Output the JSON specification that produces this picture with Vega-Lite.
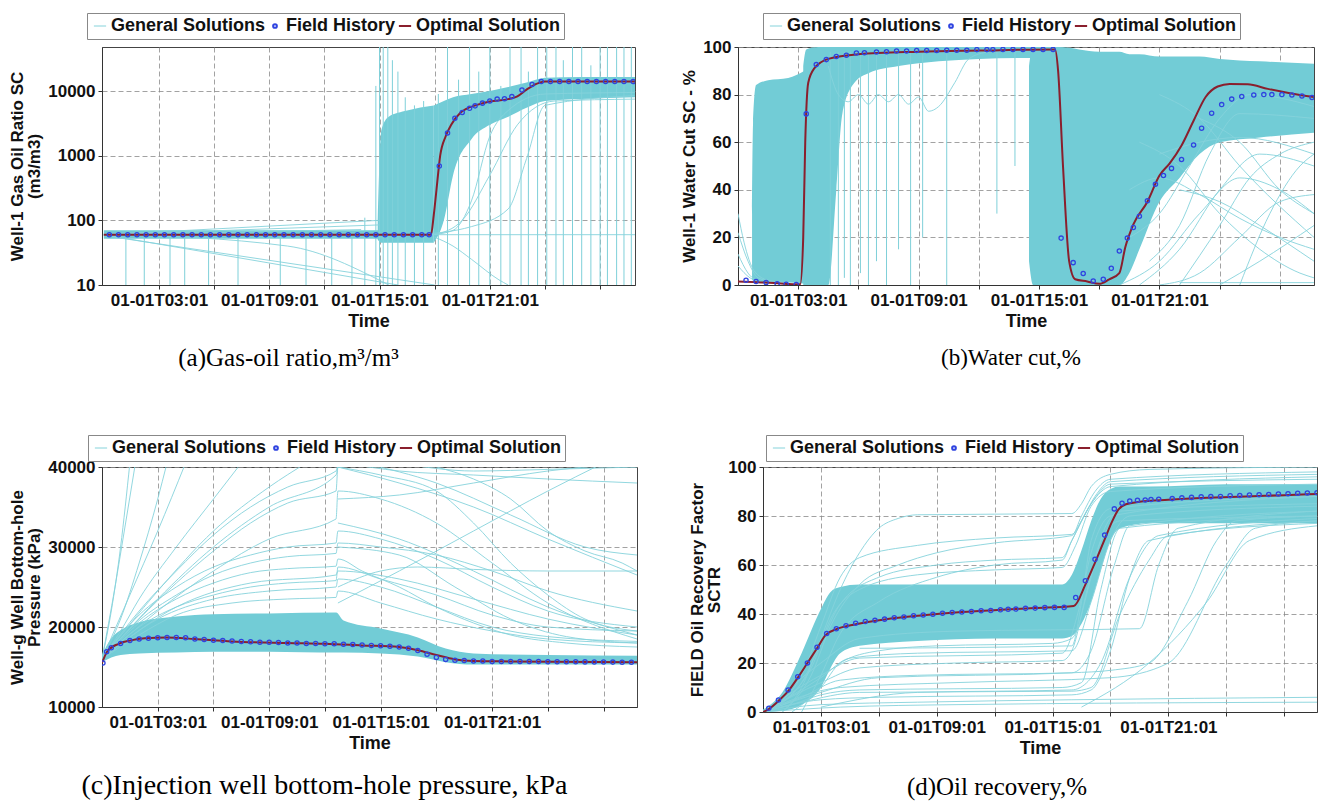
{
"$schema": "https://vega.github.io/schema/vega-lite/v6.json",
"background": "white",
"padding": {"top": 12, "left": 8, "right": 0, "bottom": 0},
"config": {
 "font": "Liberation Sans",
 "view": {"stroke": "#444", "strokeWidth": 1},
 "axis": {"labelFont": "Liberation Sans", "labelFontSize": 17, "labelFontWeight": "bold", "labelColor": "#111", "titleFont": "Liberation Sans", "titleFontSize": 18, "titleFontWeight": "bold", "titleColor": "#111", "grid": true, "gridColor": "#8a8a8a", "gridDash": [5, 3], "gridWidth": 0.8, "domainColor": "#333", "tickColor": "#333", "tickSize": 4, "labelPadding": 3},
 "axisY": {"titleFontSize": 17, "titleLineHeight": 17},
 "legend": {"orient": "none", "direction": "horizontal", "strokeColor": "#888", "fillColor": "white", "padding": 4, "labelFont": "Liberation Sans", "labelFontSize": 18, "labelFontWeight": "bold", "labelColor": "#111", "labelOffset": 2, "columnPadding": -14, "symbolStrokeWidth": 2, "symbolSize": 110, "symbolType": "stroke"},
 "title": {"font": "Liberation Serif", "fontSize": 25, "fontWeight": "normal", "color": "#000", "orient": "bottom", "offset": 16}
},
"datasets": {
 "a_band": [
  {"b": "lo", "h": 0, "v": 52, "v2": 70}, {"b": "lo", "h": 17.9, "v": 52, "v2": 70},
  {"b": "mid", "h": 14.9, "v": 50, "v2": 100}, {"b": "mid", "h": 15.1, "v": 45, "v2": 2500}, {"b": "mid", "h": 15.5, "v": 45, "v2": 4000}, {"b": "mid", "h": 16.5, "v": 45, "v2": 5000}, {"b": "mid", "h": 17.95, "v": 45, "v2": 6000},
  {"b": "hi", "h": 17.95, "v": 45, "v2": 6000}, {"b": "hi", "h": 18.5, "v": 100, "v2": 7000}, {"b": "hi", "h": 19, "v": 500, "v2": 8000}, {"b": "hi", "h": 20, "v": 1800, "v2": 9000}, {"b": "hi", "h": 21, "v": 3000, "v2": 10000}, {"b": "hi", "h": 22, "v": 4000, "v2": 11500}, {"b": "hi", "h": 23, "v": 5500, "v2": 13500}, {"b": "hi", "h": 24, "v": 7000, "v2": 16000}, {"b": "hi", "h": 26, "v": 7500, "v2": 16500}, {"b": "hi", "h": 28.9, "v": 8000, "v2": 16500}
 ],
 "a_spk": [
  {"h": 1.2, "v": 10, "v2": 55}, {"h": 2.2, "v": 10, "v2": 55}, {"h": 3.6, "v": 10, "v2": 55}, {"h": 4.4, "v": 10, "v2": 55}, {"h": 5.7, "v": 10, "v2": 55}, {"h": 7.3, "v": 10, "v2": 55}, {"h": 9.6, "v": 10, "v2": 55}, {"h": 11.0, "v": 10, "v2": 55}, {"h": 12.4, "v": 10, "v2": 55}, {"h": 13.5, "v": 10, "v2": 55}, {"h": 14.2, "v": 10, "v2": 110},
  {"h": 14.8, "v": 10, "v2": 12000}, {"h": 15.0, "v": 10, "v2": 48000}, {"h": 15.2, "v": 10, "v2": 48000}, {"h": 15.45, "v": 10, "v2": 48000}, {"h": 15.7, "v": 10, "v2": 30000}, {"h": 16.0, "v": 10, "v2": 20000}, {"h": 16.4, "v": 10, "v2": 8000}, {"h": 16.9, "v": 10, "v2": 6000}, {"h": 17.4, "v": 10, "v2": 7000}, {"h": 18.2, "v": 10, "v2": 9000}, {"h": 18.7, "v": 10, "v2": 48000}, {"h": 19.3, "v": 10, "v2": 15000}, {"h": 19.9, "v": 10, "v2": 48000}, {"h": 20.4, "v": 10, "v2": 20000}, {"h": 21.0, "v": 10, "v2": 48000}, {"h": 21.6, "v": 10, "v2": 12000}, {"h": 22.1, "v": 10, "v2": 48000}, {"h": 22.7, "v": 10, "v2": 48000}, {"h": 23.1, "v": 10, "v2": 20000}, {"h": 23.6, "v": 10, "v2": 48000}, {"h": 24.1, "v": 10, "v2": 48000}, {"h": 24.6, "v": 10, "v2": 48000}, {"h": 25.0, "v": 10, "v2": 30000}, {"h": 25.5, "v": 10, "v2": 48000}, {"h": 26.0, "v": 10, "v2": 48000}, {"h": 26.5, "v": 10, "v2": 25000}, {"h": 27.0, "v": 10, "v2": 48000}, {"h": 27.4, "v": 10, "v2": 48000}, {"h": 27.9, "v": 10, "v2": 48000}, {"h": 28.3, "v": 10, "v2": 48000}, {"h": 28.7, "v": 10, "v2": 48000}
 ],
 "a_gen": [
  {"id": "g1", "h": 0, "v": 60}, {"id": "g1", "h": 16, "v": 10},
  {"id": "g2", "h": 0, "v": 58}, {"id": "g2", "h": 18, "v": 10},
  {"id": "g3", "h": 0, "v": 62}, {"id": "g3", "h": 10, "v": 40}, {"id": "g3", "h": 15.5, "v": 10},
  {"id": "g4", "h": 0, "v": 60}, {"id": "g4", "h": 15, "v": 100},
  {"id": "g5", "h": 0, "v": 60}, {"id": "g5", "h": 15, "v": 85},
  {"id": "g6", "h": 0, "v": 60}, {"id": "g6", "h": 14, "v": 72},
  {"id": "g7", "h": 0, "v": 60}, {"id": "g7", "h": 28.9, "v": 60},
  {"id": "g8", "h": 17.9, "v": 60}, {"id": "g8", "h": 19, "v": 70}, {"id": "g8", "h": 20, "v": 200}, {"id": "g8", "h": 21, "v": 2000}, {"id": "g8", "h": 22, "v": 5000}, {"id": "g8", "h": 24, "v": 9000}, {"id": "g8", "h": 28.9, "v": 9500},
  {"id": "g9", "h": 17, "v": 60}, {"id": "g9", "h": 20, "v": 80}, {"id": "g9", "h": 22, "v": 150}, {"id": "g9", "h": 23, "v": 900}, {"id": "g9", "h": 24, "v": 6000}, {"id": "g9", "h": 28.9, "v": 8500},
  {"id": "g10", "h": 18, "v": 60}, {"id": "g10", "h": 19.5, "v": 100}, {"id": "g10", "h": 21, "v": 500}, {"id": "g10", "h": 22.5, "v": 3000}, {"id": "g10", "h": 24.5, "v": 7000}, {"id": "g10", "h": 28.9, "v": 7500},
  {"id": "g11", "h": 18, "v": 55}, {"id": "g11", "h": 19, "v": 40}, {"id": "g11", "h": 20, "v": 25}, {"id": "g11", "h": 21.5, "v": 12}, {"id": "g11", "h": 22, "v": 10}
 ],
 "a_opt": [
  {"h": 0, "v": 60}, {"h": 4, "v": 60}, {"h": 8, "v": 60}, {"h": 12, "v": 60}, {"h": 16, "v": 60}, {"h": 17.8, "v": 60}, {"h": 17.95, "v": 120}, {"h": 18.1, "v": 300}, {"h": 18.3, "v": 1000}, {"h": 18.6, "v": 2000}, {"h": 18.9, "v": 3000}, {"h": 19.4, "v": 4600}, {"h": 20.3, "v": 6100}, {"h": 21, "v": 6900}, {"h": 22, "v": 7500}, {"h": 22.5, "v": 8300}, {"h": 23, "v": 10500}, {"h": 23.5, "v": 12800}, {"h": 24, "v": 14000}, {"h": 28.9, "v": 14000}
 ],
 "a_hist": [
  {"h": 0.3, "v": 60}, {"h": 0.8, "v": 60}, {"h": 1.3, "v": 60}, {"h": 1.8, "v": 60}, {"h": 2.3, "v": 60}, {"h": 2.8, "v": 60}, {"h": 3.3, "v": 60}, {"h": 3.8, "v": 60}, {"h": 4.3, "v": 60}, {"h": 4.8, "v": 60}, {"h": 5.3, "v": 60}, {"h": 5.8, "v": 60}, {"h": 6.3, "v": 60}, {"h": 6.8, "v": 60}, {"h": 7.3, "v": 60}, {"h": 7.8, "v": 60}, {"h": 8.3, "v": 60}, {"h": 8.8, "v": 60}, {"h": 9.3, "v": 60}, {"h": 9.8, "v": 60}, {"h": 10.3, "v": 60}, {"h": 10.8, "v": 60}, {"h": 11.3, "v": 60}, {"h": 11.8, "v": 60}, {"h": 12.3, "v": 60}, {"h": 12.8, "v": 60}, {"h": 13.3, "v": 60}, {"h": 13.8, "v": 60}, {"h": 14.3, "v": 60}, {"h": 14.8, "v": 60}, {"h": 15.3, "v": 60}, {"h": 15.8, "v": 60}, {"h": 16.3, "v": 60}, {"h": 16.8, "v": 60}, {"h": 17.3, "v": 60}, {"h": 17.7, "v": 60},
  {"h": 18.25, "v": 690}, {"h": 18.7, "v": 2240}, {"h": 19.1, "v": 3800}, {"h": 19.5, "v": 4650}, {"h": 19.9, "v": 5400}, {"h": 20.2, "v": 5900}, {"h": 20.6, "v": 6500}, {"h": 21.0, "v": 7000}, {"h": 21.4, "v": 7500}, {"h": 21.8, "v": 7600}, {"h": 22.2, "v": 8200}, {"h": 22.75, "v": 10400}, {"h": 23.3, "v": 12600}, {"h": 23.8, "v": 14000}, {"h": 24.3, "v": 14000}, {"h": 24.8, "v": 14000}, {"h": 25.3, "v": 14000}, {"h": 25.8, "v": 14000}, {"h": 26.3, "v": 14000}, {"h": 26.8, "v": 14000}, {"h": 27.3, "v": 14000}, {"h": 27.8, "v": 14000}, {"h": 28.3, "v": 14000}, {"h": 28.8, "v": 14000}
 ],
 "b_band": [
  {"b": "B1", "h": 0.7, "v": 2, "v2": 30}, {"b": "B1", "h": 0.75, "v": 2, "v2": 68}, {"b": "B1", "h": 0.9, "v": 1, "v2": 84}, {"b": "B1", "h": 1.5, "v": 1, "v2": 86}, {"b": "B1", "h": 2.5, "v": 1, "v2": 87}, {"b": "B1", "h": 3.32, "v": 0.5, "v2": 90},
  {"b": "B2", "h": 3.25, "v": 0, "v2": 92}, {"b": "B2", "h": 3.4, "v": 0, "v2": 99}, {"b": "B2", "h": 4.0, "v": 0, "v2": 100}, {"b": "B2", "h": 4.5, "v": 0, "v2": 100}, {"b": "B2", "h": 4.9, "v": 40, "v2": 100}, {"b": "B2", "h": 5.2, "v": 72, "v2": 100}, {"b": "B2", "h": 5.8, "v": 85, "v2": 100}, {"b": "B2", "h": 6.5, "v": 89, "v2": 100}, {"b": "B2", "h": 8, "v": 92, "v2": 100}, {"b": "B2", "h": 10, "v": 94, "v2": 100}, {"b": "B2", "h": 12, "v": 95, "v2": 100}, {"b": "B2", "h": 15.5, "v": 95.5, "v2": 100},
  {"b": "B3", "h": 14.5, "v": 10, "v2": 92}, {"b": "B3", "h": 14.7, "v": 0, "v2": 100}, {"b": "B3", "h": 16, "v": 0, "v2": 100}, {"b": "B3", "h": 18, "v": 0, "v2": 98}, {"b": "B3", "h": 19, "v": 0, "v2": 98}, {"b": "B3", "h": 19.5, "v": 5, "v2": 97}, {"b": "B3", "h": 20, "v": 15, "v2": 97}, {"b": "B3", "h": 21, "v": 35, "v2": 96}, {"b": "B3", "h": 22, "v": 45, "v2": 96}, {"b": "B3", "h": 23, "v": 55, "v2": 96}, {"b": "B3", "h": 24, "v": 60, "v2": 95}, {"b": "B3", "h": 26, "v": 62, "v2": 94}, {"b": "B3", "h": 28.7, "v": 64, "v2": 93}
 ],
 "b_spk": [
  {"h": 4.6, "v": 0, "v2": 98}, {"h": 5.0, "v": 0, "v2": 98}, {"h": 5.3, "v": 3, "v2": 98}, {"h": 5.6, "v": 0, "v2": 98}, {"h": 6.1, "v": 5, "v2": 98}, {"h": 6.5, "v": 0, "v2": 98}, {"h": 6.9, "v": 10, "v2": 98}, {"h": 7.4, "v": 0, "v2": 98}, {"h": 8.0, "v": 15, "v2": 98}, {"h": 8.6, "v": 0, "v2": 98}, {"h": 9.2, "v": 20, "v2": 97}, {"h": 10.4, "v": 0, "v2": 97}, {"h": 12.9, "v": 30, "v2": 98}, {"h": 13.8, "v": 50, "v2": 98}
 ],
 "b_gen": [
  {"id": "w1", "h": 4.5, "v": 92}, {"id": "w1", "h": 5, "v": 80}, {"id": "w1", "h": 5.5, "v": 77}, {"id": "w1", "h": 6, "v": 80}, {"id": "w1", "h": 6.5, "v": 76}, {"id": "w1", "h": 7, "v": 80}, {"id": "w1", "h": 7.5, "v": 77}, {"id": "w1", "h": 8, "v": 80}, {"id": "w1", "h": 8.5, "v": 76}, {"id": "w1", "h": 9, "v": 79}, {"id": "w1", "h": 9.5, "v": 73}, {"id": "w1", "h": 10, "v": 75}, {"id": "w1", "h": 10.8, "v": 85}, {"id": "w1", "h": 11.5, "v": 95}, {"id": "w1", "h": 12.5, "v": 98},
  {"id": "d1", "h": 0, "v": 30}, {"id": "d1", "h": 0.3, "v": 18}, {"id": "d1", "h": 0.8, "v": 6}, {"id": "d1", "h": 1.5, "v": 2}, {"id": "d1", "h": 2.5, "v": 1},
  {"id": "d2", "h": 0, "v": 22}, {"id": "d2", "h": 0.5, "v": 10}, {"id": "d2", "h": 1, "v": 3}, {"id": "d2", "h": 2, "v": 1},
  {"id": "d3", "h": 0, "v": 13}, {"id": "d3", "h": 0.5, "v": 5}, {"id": "d3", "h": 1.2, "v": 1},
  {"id": "d4", "h": 0, "v": 8}, {"id": "d4", "h": 0.6, "v": 3}, {"id": "d4", "h": 1.5, "v": 0.5},
  {"id": "r1", "h": 19, "v": 0}, {"id": "r1", "h": 21, "v": 10}, {"id": "r1", "h": 23, "v": 30}, {"id": "r1", "h": 25, "v": 45}, {"id": "r1", "h": 27, "v": 40}, {"id": "r1", "h": 28.7, "v": 30},
  {"id": "r2", "h": 20, "v": 0}, {"id": "r2", "h": 22, "v": 15}, {"id": "r2", "h": 24, "v": 40}, {"id": "r2", "h": 26, "v": 55}, {"id": "r2", "h": 28.7, "v": 50},
  {"id": "r3", "h": 21, "v": 0}, {"id": "r3", "h": 23, "v": 5}, {"id": "r3", "h": 25, "v": 20}, {"id": "r3", "h": 27, "v": 35}, {"id": "r3", "h": 28.7, "v": 38},
  {"id": "r4", "h": 22, "v": 40}, {"id": "r4", "h": 24, "v": 35}, {"id": "r4", "h": 26, "v": 25}, {"id": "r4", "h": 28.7, "v": 10},
  {"id": "r5", "h": 20, "v": 60}, {"id": "r5", "h": 22, "v": 50}, {"id": "r5", "h": 24, "v": 30}, {"id": "r5", "h": 26, "v": 15}, {"id": "r5", "h": 28, "v": 5}, {"id": "r5", "h": 28.7, "v": 3},
  {"id": "r6", "h": 24, "v": 0}, {"id": "r6", "h": 26, "v": 10}, {"id": "r6", "h": 28.7, "v": 25},
  {"id": "r7", "h": 23, "v": 70}, {"id": "r7", "h": 25, "v": 60}, {"id": "r7", "h": 27, "v": 40}, {"id": "r7", "h": 28.7, "v": 30},
  {"id": "r8", "h": 21, "v": 80}, {"id": "r8", "h": 23, "v": 70}, {"id": "r8", "h": 25, "v": 50}, {"id": "r8", "h": 28.7, "v": 20},
  {"id": "r9", "h": 22, "v": 0}, {"id": "r9", "h": 24, "v": 25}, {"id": "r9", "h": 25.5, "v": 45}, {"id": "r9", "h": 27, "v": 55}, {"id": "r9", "h": 28.7, "v": 60},
  {"id": "r10", "h": 25, "v": 0}, {"id": "r10", "h": 26.5, "v": 30}, {"id": "r10", "h": 28, "v": 50}, {"id": "r10", "h": 28.7, "v": 55},
  {"id": "r11", "h": 19.5, "v": 40}, {"id": "r11", "h": 21, "v": 45}, {"id": "r11", "h": 23, "v": 38}, {"id": "r11", "h": 25, "v": 28}, {"id": "r11", "h": 27, "v": 20}, {"id": "r11", "h": 28.7, "v": 15},
  {"id": "r12", "h": 22, "v": 1}, {"id": "r12", "h": 28.7, "v": 1},
  {"id": "r13", "h": 19.5, "v": 20}, {"id": "r13", "h": 21, "v": 30}, {"id": "r13", "h": 22.5, "v": 50}, {"id": "r13", "h": 24, "v": 70}, {"id": "r13", "h": 25.5, "v": 80}, {"id": "r13", "h": 28.7, "v": 75},
  {"id": "r14", "h": 20.5, "v": 10}, {"id": "r14", "h": 22, "v": 25}, {"id": "r14", "h": 23.5, "v": 55}, {"id": "r14", "h": 25, "v": 72}, {"id": "r14", "h": 28.7, "v": 70},
  {"id": "r15", "h": 21, "v": 55}, {"id": "r15", "h": 23, "v": 60}, {"id": "r15", "h": 25, "v": 62}, {"id": "r15", "h": 28.7, "v": 55}
 ],
 "b_opt": [
  {"h": 0, "v": 1.5}, {"h": 1, "v": 1.2}, {"h": 2, "v": 0.7}, {"h": 3.1, "v": 0.3}, {"h": 3.25, "v": 20}, {"h": 3.35, "v": 60}, {"h": 3.5, "v": 85}, {"h": 3.8, "v": 91}, {"h": 4.5, "v": 95}, {"h": 6, "v": 97}, {"h": 9, "v": 98}, {"h": 12, "v": 98.5}, {"h": 15.8, "v": 99}, {"h": 15.95, "v": 90}, {"h": 16.2, "v": 49}, {"h": 16.5, "v": 10}, {"h": 16.8, "v": 2.4}, {"h": 17.4, "v": 1.5}, {"h": 18, "v": 0.5}, {"h": 18.5, "v": 2.4}, {"h": 19, "v": 5}, {"h": 19.3, "v": 16}, {"h": 19.7, "v": 25.5}, {"h": 20.4, "v": 35}, {"h": 21, "v": 46}, {"h": 21.5, "v": 51}, {"h": 22.1, "v": 58.6}, {"h": 22.7, "v": 69}, {"h": 23.3, "v": 79}, {"h": 23.9, "v": 83.4}, {"h": 24.5, "v": 84.5}, {"h": 25.4, "v": 84.3}, {"h": 26.4, "v": 82.4}, {"h": 27.5, "v": 80.6}, {"h": 28.7, "v": 79}
 ],
 "b_hist": [
  {"h": 0.4, "v": 2.0}, {"h": 0.9, "v": 1.5}, {"h": 1.4, "v": 1.0}, {"h": 1.95, "v": 0.5}, {"h": 2.4, "v": 0.3}, {"h": 2.9, "v": 0.2}, {"h": 3.4, "v": 71.9}, {"h": 3.9, "v": 92.6}, {"h": 4.4, "v": 94.7}, {"h": 4.9, "v": 96}, {"h": 5.4, "v": 96.5}, {"h": 5.9, "v": 97.5}, {"h": 6.3, "v": 97.6}, {"h": 6.9, "v": 97.9}, {"h": 7.4, "v": 98}, {"h": 7.9, "v": 98.3}, {"h": 8.4, "v": 98.3}, {"h": 8.9, "v": 98.5}, {"h": 9.4, "v": 98.5}, {"h": 9.9, "v": 98.5}, {"h": 10.4, "v": 98.6}, {"h": 10.9, "v": 98.6}, {"h": 11.4, "v": 98.6}, {"h": 11.9, "v": 98.9}, {"h": 12.4, "v": 98.9}, {"h": 12.7, "v": 98.9}, {"h": 13.2, "v": 99}, {"h": 13.7, "v": 99}, {"h": 14.2, "v": 99}, {"h": 14.7, "v": 99}, {"h": 15.2, "v": 99}, {"h": 15.7, "v": 99},
  {"h": 16.1, "v": 19.7}, {"h": 16.7, "v": 9.4}, {"h": 17.2, "v": 4.8}, {"h": 17.7, "v": 1.7}, {"h": 18.2, "v": 2.4}, {"h": 18.6, "v": 7.0}, {"h": 19.0, "v": 14.3}, {"h": 19.4, "v": 19.7}, {"h": 19.7, "v": 24.2}, {"h": 20.0, "v": 28.9}, {"h": 20.4, "v": 35.4}, {"h": 20.8, "v": 42.3}, {"h": 21.2, "v": 46}, {"h": 21.6, "v": 49}, {"h": 22.1, "v": 52.7}, {"h": 22.7, "v": 58.8}, {"h": 23.1, "v": 65.9}, {"h": 23.6, "v": 72.2}, {"h": 24.1, "v": 75.8}, {"h": 24.6, "v": 78.1}, {"h": 25.1, "v": 79.2}, {"h": 25.7, "v": 79.8}, {"h": 26.2, "v": 80}, {"h": 26.6, "v": 80}, {"h": 27.1, "v": 80}, {"h": 27.6, "v": 79.8}, {"h": 28.1, "v": 79.4}, {"h": 28.6, "v": 78.8}
 ],
 "c_band": [
  {"b": "m", "h": 0, "v": 15600, "v2": 16500}, {"b": "m", "h": 0.5, "v": 16200, "v2": 18600}, {"b": "m", "h": 1, "v": 16500, "v2": 19600}, {"b": "m", "h": 2, "v": 16700, "v2": 20600}, {"b": "m", "h": 4, "v": 16800, "v2": 21300}, {"b": "m", "h": 6, "v": 16900, "v2": 21600}, {"b": "m", "h": 9, "v": 16900, "v2": 21700}, {"b": "m", "h": 12.6, "v": 16800, "v2": 21800}, {"b": "m", "h": 13, "v": 16800, "v2": 20800}, {"b": "m", "h": 15, "v": 16700, "v2": 19800}, {"b": "m", "h": 17, "v": 16300, "v2": 18700}, {"b": "m", "h": 18.5, "v": 15600, "v2": 17300}, {"b": "m", "h": 20, "v": 15300, "v2": 16700}, {"b": "m", "h": 24, "v": 15300, "v2": 16500}, {"b": "m", "h": 28.8, "v": 15300, "v2": 16400}
 ],
 "c_gen": [
  {"id": "l1", "h": 0, "v": 16000}, {"id": "l1", "h": 0.5, "v": 22000}, {"id": "l1", "h": 1, "v": 30000}, {"id": "l1", "h": 1.5, "v": 40500},
  {"id": "l2", "h": 0, "v": 16000}, {"id": "l2", "h": 1, "v": 21000}, {"id": "l2", "h": 2, "v": 28000}, {"id": "l2", "h": 3, "v": 36000}, {"id": "l2", "h": 3.5, "v": 40500},
  {"id": "l3", "h": 0, "v": 16000}, {"id": "l3", "h": 1, "v": 19500}, {"id": "l3", "h": 2, "v": 23500}, {"id": "l3", "h": 4, "v": 30000}, {"id": "l3", "h": 6, "v": 36000}, {"id": "l3", "h": 7.5, "v": 40500},
  {"id": "l4", "h": 0, "v": 16000}, {"id": "l4", "h": 2, "v": 21000}, {"id": "l4", "h": 4, "v": 25500}, {"id": "l4", "h": 6, "v": 29500}, {"id": "l4", "h": 8, "v": 33000}, {"id": "l4", "h": 10, "v": 35500}, {"id": "l4", "h": 12.6, "v": 37000}, {"id": "l4", "h": 12.7, "v": 40000}, {"id": "l4", "h": 14, "v": 40500},
  {"id": "l5", "h": 0, "v": 16000}, {"id": "l5", "h": 2, "v": 20500}, {"id": "l5", "h": 4, "v": 23500}, {"id": "l5", "h": 6, "v": 25500}, {"id": "l5", "h": 8, "v": 26800}, {"id": "l5", "h": 10, "v": 27300}, {"id": "l5", "h": 12.6, "v": 27600}, {"id": "l5", "h": 12.7, "v": 28500}, {"id": "l5", "h": 14, "v": 27000}, {"id": "l5", "h": 16, "v": 25000}, {"id": "l5", "h": 18, "v": 22500}, {"id": "l5", "h": 20, "v": 20500}, {"id": "l5", "h": 22, "v": 19000}, {"id": "l5", "h": 25, "v": 18000}, {"id": "l5", "h": 28.8, "v": 17500},
  {"id": "l6", "h": 0, "v": 16000}, {"id": "l6", "h": 2, "v": 20000}, {"id": "l6", "h": 4, "v": 22500}, {"id": "l6", "h": 6, "v": 24000}, {"id": "l6", "h": 8, "v": 25000}, {"id": "l6", "h": 10, "v": 25500}, {"id": "l6", "h": 12.6, "v": 25800}, {"id": "l6", "h": 12.7, "v": 27500}, {"id": "l6", "h": 15, "v": 26000}, {"id": "l6", "h": 18, "v": 24000}, {"id": "l6", "h": 21, "v": 21500}, {"id": "l6", "h": 24, "v": 20000}, {"id": "l6", "h": 28.8, "v": 19500},
  {"id": "l7", "h": 0, "v": 16000}, {"id": "l7", "h": 3, "v": 22000}, {"id": "l7", "h": 6, "v": 27000}, {"id": "l7", "h": 9, "v": 31000}, {"id": "l7", "h": 12.6, "v": 33500}, {"id": "l7", "h": 12.7, "v": 37000}, {"id": "l7", "h": 15, "v": 36000}, {"id": "l7", "h": 18, "v": 33000}, {"id": "l7", "h": 21, "v": 28000}, {"id": "l7", "h": 24, "v": 23000}, {"id": "l7", "h": 28.8, "v": 18500},
  {"id": "l8", "h": 0, "v": 16000}, {"id": "l8", "h": 3, "v": 23500}, {"id": "l8", "h": 6, "v": 30000}, {"id": "l8", "h": 9, "v": 35000}, {"id": "l8", "h": 12.6, "v": 39000}, {"id": "l8", "h": 12.7, "v": 40500},
  {"id": "l9", "h": 12.7, "v": 40000}, {"id": "l9", "h": 16, "v": 38000}, {"id": "l9", "h": 20, "v": 35000}, {"id": "l9", "h": 24, "v": 31000}, {"id": "l9", "h": 28.8, "v": 26500},
  {"id": "l10", "h": 12.7, "v": 40000}, {"id": "l10", "h": 15, "v": 39000}, {"id": "l10", "h": 18, "v": 37000}, {"id": "l10", "h": 20, "v": 33000}, {"id": "l10", "h": 22, "v": 28000}, {"id": "l10", "h": 24, "v": 24000}, {"id": "l10", "h": 26, "v": 21000}, {"id": "l10", "h": 28.8, "v": 19500},
  {"id": "l11", "h": 13, "v": 40500}, {"id": "l11", "h": 16, "v": 39500}, {"id": "l11", "h": 20, "v": 39000}, {"id": "l11", "h": 24, "v": 38500}, {"id": "l11", "h": 28.8, "v": 38000},
  {"id": "l12", "h": 16, "v": 40500}, {"id": "l12", "h": 20, "v": 39500}, {"id": "l12", "h": 24, "v": 39700}, {"id": "l12", "h": 28.8, "v": 40000},
  {"id": "l13", "h": 12.7, "v": 23000}, {"id": "l13", "h": 16, "v": 27000}, {"id": "l13", "h": 20, "v": 32000}, {"id": "l13", "h": 24, "v": 37000}, {"id": "l13", "h": 27, "v": 40500},
  {"id": "l14", "h": 12.7, "v": 25000}, {"id": "l14", "h": 15, "v": 27000}, {"id": "l14", "h": 17, "v": 27500}, {"id": "l14", "h": 20, "v": 27200}, {"id": "l14", "h": 24, "v": 27000}, {"id": "l14", "h": 28.8, "v": 27000},
  {"id": "l15", "h": 0, "v": 16000}, {"id": "l15", "h": 2, "v": 19000}, {"id": "l15", "h": 4, "v": 21500}, {"id": "l15", "h": 7, "v": 23000}, {"id": "l15", "h": 10, "v": 23500}, {"id": "l15", "h": 12.6, "v": 23700}, {"id": "l15", "h": 12.7, "v": 24500}, {"id": "l15", "h": 15, "v": 23000}, {"id": "l15", "h": 18, "v": 21000}, {"id": "l15", "h": 21, "v": 19500}, {"id": "l15", "h": 24, "v": 18500}, {"id": "l15", "h": 28.8, "v": 18000},
  {"id": "l16", "h": 0, "v": 16000}, {"id": "l16", "h": 1.5, "v": 24000}, {"id": "l16", "h": 3, "v": 32000}, {"id": "l16", "h": 4.5, "v": 40500},
  {"id": "l17", "h": 18, "v": 40000}, {"id": "l17", "h": 20, "v": 38500}, {"id": "l17", "h": 22, "v": 36000}, {"id": "l17", "h": 24, "v": 32000}, {"id": "l17", "h": 26, "v": 29500}, {"id": "l17", "h": 28, "v": 28000}, {"id": "l17", "h": 28.8, "v": 27000},
  {"id": "l18", "h": 12.7, "v": 30000}, {"id": "l18", "h": 16, "v": 29000}, {"id": "l18", "h": 19, "v": 25000}, {"id": "l18", "h": 22, "v": 21000}, {"id": "l18", "h": 25, "v": 18800}, {"id": "l18", "h": 28.8, "v": 18000},
  {"id": "l19", "h": 0, "v": 16000}, {"id": "l19", "h": 2, "v": 22000}, {"id": "l19", "h": 4, "v": 27000}, {"id": "l19", "h": 6, "v": 31500}, {"id": "l19", "h": 8, "v": 35000}, {"id": "l19", "h": 10, "v": 37500}, {"id": "l19", "h": 12.6, "v": 39500}, {"id": "l19", "h": 12.7, "v": 40500},
  {"id": "l20", "h": 0, "v": 16000}, {"id": "l20", "h": 2, "v": 21500}, {"id": "l20", "h": 4, "v": 25000}, {"id": "l20", "h": 6, "v": 27500}, {"id": "l20", "h": 8, "v": 29000}, {"id": "l20", "h": 10, "v": 30000}, {"id": "l20", "h": 12.6, "v": 30500}, {"id": "l20", "h": 12.7, "v": 32000}, {"id": "l20", "h": 15, "v": 31000}, {"id": "l20", "h": 18, "v": 28500}, {"id": "l20", "h": 21, "v": 25000}, {"id": "l20", "h": 24, "v": 22000}, {"id": "l20", "h": 28.8, "v": 20000},
  {"id": "l21", "h": 0, "v": 16000}, {"id": "l21", "h": 2, "v": 20800}, {"id": "l21", "h": 4, "v": 24000}, {"id": "l21", "h": 6, "v": 26500}, {"id": "l21", "h": 8, "v": 28000}, {"id": "l21", "h": 10, "v": 28800}, {"id": "l21", "h": 12.6, "v": 29200}, {"id": "l21", "h": 12.7, "v": 30500}, {"id": "l21", "h": 15, "v": 30000}, {"id": "l21", "h": 18, "v": 29000}, {"id": "l21", "h": 21, "v": 27000}, {"id": "l21", "h": 24, "v": 24500}, {"id": "l21", "h": 28.8, "v": 22000},
  {"id": "l22", "h": 0, "v": 16000}, {"id": "l22", "h": 3, "v": 21000}, {"id": "l22", "h": 6, "v": 23500}, {"id": "l22", "h": 9, "v": 24500}, {"id": "l22", "h": 12.6, "v": 25000}, {"id": "l22", "h": 12.7, "v": 26000}, {"id": "l22", "h": 15, "v": 25000}, {"id": "l22", "h": 18, "v": 22500}, {"id": "l22", "h": 21, "v": 20000}, {"id": "l22", "h": 24, "v": 18800}, {"id": "l22", "h": 28.8, "v": 18200},
  {"id": "l23", "h": 0, "v": 16000}, {"id": "l23", "h": 3, "v": 24500}, {"id": "l23", "h": 6, "v": 32000}, {"id": "l23", "h": 9, "v": 37500}, {"id": "l23", "h": 11, "v": 40500},
  {"id": "l24", "h": 0, "v": 16000}, {"id": "l24", "h": 0.7, "v": 25000}, {"id": "l24", "h": 1.2, "v": 32000}, {"id": "l24", "h": 1.8, "v": 40500},
  {"id": "l25", "h": 12.7, "v": 36000}, {"id": "l25", "h": 16, "v": 36500}, {"id": "l25", "h": 20, "v": 38000}, {"id": "l25", "h": 24, "v": 39500}, {"id": "l25", "h": 28.8, "v": 40500},
  {"id": "l26", "h": 14, "v": 40500}, {"id": "l26", "h": 18, "v": 38000}, {"id": "l26", "h": 22, "v": 34000}, {"id": "l26", "h": 26, "v": 30000}, {"id": "l26", "h": 28.8, "v": 29000},
  {"id": "l27", "h": 12.7, "v": 33000}, {"id": "l27", "h": 16, "v": 31000}, {"id": "l27", "h": 20, "v": 27000}, {"id": "l27", "h": 24, "v": 22500}, {"id": "l27", "h": 28.8, "v": 19000},
  {"id": "l28", "h": 0, "v": 16000}, {"id": "l28", "h": 4, "v": 22500}, {"id": "l28", "h": 8, "v": 25500}, {"id": "l28", "h": 12.6, "v": 26500}, {"id": "l28", "h": 12.7, "v": 27000}, {"id": "l28", "h": 16, "v": 26000}, {"id": "l28", "h": 20, "v": 23500}, {"id": "l28", "h": 24, "v": 21000}, {"id": "l28", "h": 28.8, "v": 19000}
 ],
 "c_opt": [
  {"h": 0, "v": 15500}, {"h": 0.3, "v": 17000}, {"h": 0.9, "v": 17900}, {"h": 1.5, "v": 18300}, {"h": 2.3, "v": 18600}, {"h": 3.5, "v": 18700}, {"h": 5, "v": 18500}, {"h": 7, "v": 18200}, {"h": 10, "v": 18000}, {"h": 12, "v": 17900}, {"h": 14, "v": 17700}, {"h": 16, "v": 17500}, {"h": 17, "v": 17100}, {"h": 18, "v": 16500}, {"h": 19, "v": 15950}, {"h": 20, "v": 15750}, {"h": 22, "v": 15700}, {"h": 28.8, "v": 15600}
 ],
 "c_hist": [
  {"h": 0.05, "v": 15500}, {"h": 0.25, "v": 16900}, {"h": 0.5, "v": 17400}, {"h": 1.0, "v": 17950}, {"h": 1.5, "v": 18300}, {"h": 2.0, "v": 18500}, {"h": 2.5, "v": 18600}, {"h": 3.0, "v": 18650}, {"h": 3.5, "v": 18700}, {"h": 4.0, "v": 18700}, {"h": 4.5, "v": 18650}, {"h": 5.0, "v": 18500}, {"h": 5.5, "v": 18450}, {"h": 6.0, "v": 18350}, {"h": 6.5, "v": 18300}, {"h": 7.0, "v": 18250}, {"h": 7.5, "v": 18200}, {"h": 8.0, "v": 18150}, {"h": 8.5, "v": 18100}, {"h": 9.0, "v": 18100}, {"h": 9.5, "v": 18050}, {"h": 10.0, "v": 18000}, {"h": 10.5, "v": 18000}, {"h": 11.0, "v": 17950}, {"h": 11.5, "v": 17950}, {"h": 12.0, "v": 17900}, {"h": 12.5, "v": 17900}, {"h": 13.0, "v": 17850}, {"h": 13.5, "v": 17800}, {"h": 14.0, "v": 17750}, {"h": 14.5, "v": 17700}, {"h": 15.0, "v": 17650}, {"h": 15.5, "v": 17600}, {"h": 16.0, "v": 17500}, {"h": 16.5, "v": 17350}, {"h": 17.0, "v": 17050}, {"h": 17.5, "v": 16600}, {"h": 18.0, "v": 16200}, {"h": 18.5, "v": 15950}, {"h": 19.0, "v": 15850}, {"h": 19.5, "v": 15800}, {"h": 20.0, "v": 15750}, {"h": 20.5, "v": 15750}, {"h": 21.0, "v": 15700}, {"h": 21.5, "v": 15700}, {"h": 22.0, "v": 15700}, {"h": 22.5, "v": 15700}, {"h": 23.0, "v": 15680}, {"h": 23.5, "v": 15680}, {"h": 24.0, "v": 15660}, {"h": 24.5, "v": 15660}, {"h": 25.0, "v": 15650}, {"h": 25.5, "v": 15650}, {"h": 26.0, "v": 15640}, {"h": 26.5, "v": 15630}, {"h": 27.0, "v": 15620}, {"h": 27.5, "v": 15610}, {"h": 28.0, "v": 15600}, {"h": 28.5, "v": 15600}
 ],
 "d_band": [
  {"b": "m", "h": 0, "v": 0, "v2": 1}, {"b": "m", "h": 1, "v": 0.5, "v2": 8}, {"b": "m", "h": 2, "v": 3, "v2": 24}, {"b": "m", "h": 3, "v": 10, "v2": 42}, {"b": "m", "h": 3.5, "v": 18, "v2": 49}, {"b": "m", "h": 4, "v": 24, "v2": 51}, {"b": "m", "h": 5, "v": 27, "v2": 52}, {"b": "m", "h": 8, "v": 29, "v2": 52}, {"b": "m", "h": 12, "v": 30, "v2": 52}, {"b": "m", "h": 15.5, "v": 30, "v2": 52}, {"b": "m", "h": 16, "v": 31, "v2": 56}, {"b": "m", "h": 16.5, "v": 36, "v2": 66}, {"b": "m", "h": 17, "v": 45, "v2": 78}, {"b": "m", "h": 17.5, "v": 58, "v2": 87}, {"b": "m", "h": 18, "v": 70, "v2": 91}, {"b": "m", "h": 18.5, "v": 75, "v2": 92}, {"b": "m", "h": 20, "v": 77, "v2": 92}, {"b": "m", "h": 24, "v": 77, "v2": 93}, {"b": "m", "h": 28.7, "v": 77, "v2": 93}
 ],
 "d_gen": [
  {"id": "k1", "h": 1, "v": 0}, {"id": "k1", "h": 2, "v": 10}, {"id": "k1", "h": 3, "v": 30}, {"id": "k1", "h": 4, "v": 50}, {"id": "k1", "h": 5, "v": 65}, {"id": "k1", "h": 6, "v": 75}, {"id": "k1", "h": 7, "v": 79}, {"id": "k1", "h": 8, "v": 80.5}, {"id": "k1", "h": 16, "v": 81}, {"id": "k1", "h": 16.5, "v": 85}, {"id": "k1", "h": 17, "v": 92}, {"id": "k1", "h": 18, "v": 97}, {"id": "k1", "h": 20, "v": 99}, {"id": "k1", "h": 28.7, "v": 100},
  {"id": "k2", "h": 1, "v": 0}, {"id": "k2", "h": 2.5, "v": 15}, {"id": "k2", "h": 3.5, "v": 35}, {"id": "k2", "h": 5, "v": 52}, {"id": "k2", "h": 7, "v": 60}, {"id": "k2", "h": 9, "v": 65}, {"id": "k2", "h": 12, "v": 69}, {"id": "k2", "h": 16, "v": 72}, {"id": "k2", "h": 16.5, "v": 80}, {"id": "k2", "h": 17.2, "v": 90}, {"id": "k2", "h": 18, "v": 95}, {"id": "k2", "h": 28.7, "v": 98},
  {"id": "k3", "h": 2, "v": 0}, {"id": "k3", "h": 3, "v": 15}, {"id": "k3", "h": 4, "v": 32}, {"id": "k3", "h": 6, "v": 45}, {"id": "k3", "h": 9, "v": 55}, {"id": "k3", "h": 12, "v": 60}, {"id": "k3", "h": 15.5, "v": 62}, {"id": "k3", "h": 16, "v": 70}, {"id": "k3", "h": 17, "v": 85}, {"id": "k3", "h": 18, "v": 92}, {"id": "k3", "h": 28.7, "v": 96},
  {"id": "k4", "h": 1.5, "v": 0}, {"id": "k4", "h": 3, "v": 10}, {"id": "k4", "h": 4, "v": 20}, {"id": "k4", "h": 6, "v": 25}, {"id": "k4", "h": 9, "v": 27}, {"id": "k4", "h": 15, "v": 28}, {"id": "k4", "h": 16, "v": 30}, {"id": "k4", "h": 17, "v": 55}, {"id": "k4", "h": 17.7, "v": 75}, {"id": "k4", "h": 18.5, "v": 82}, {"id": "k4", "h": 28.7, "v": 85},
  {"id": "k5", "h": 0, "v": 0}, {"id": "k5", "h": 1.5, "v": 3}, {"id": "k5", "h": 3, "v": 7}, {"id": "k5", "h": 5, "v": 9}, {"id": "k5", "h": 15.5, "v": 10}, {"id": "k5", "h": 16.5, "v": 12}, {"id": "k5", "h": 17.5, "v": 50}, {"id": "k5", "h": 18.5, "v": 75}, {"id": "k5", "h": 28.7, "v": 80},
  {"id": "k6", "h": 0, "v": 0}, {"id": "k6", "h": 3, "v": 5}, {"id": "k6", "h": 6, "v": 6}, {"id": "k6", "h": 16, "v": 7}, {"id": "k6", "h": 17, "v": 9}, {"id": "k6", "h": 18, "v": 25}, {"id": "k6", "h": 19, "v": 55}, {"id": "k6", "h": 20, "v": 70}, {"id": "k6", "h": 28.7, "v": 78},
  {"id": "k7", "h": 0, "v": 0}, {"id": "k7", "h": 3, "v": 3}, {"id": "k7", "h": 8, "v": 4}, {"id": "k7", "h": 16, "v": 5}, {"id": "k7", "h": 28.7, "v": 6},
  {"id": "k8", "h": 0, "v": 0}, {"id": "k8", "h": 4, "v": 2}, {"id": "k8", "h": 10, "v": 3}, {"id": "k8", "h": 28.7, "v": 4},
  {"id": "k9", "h": 0, "v": 0}, {"id": "k9", "h": 2, "v": 6}, {"id": "k9", "h": 4, "v": 13}, {"id": "k9", "h": 8, "v": 15}, {"id": "k9", "h": 16, "v": 16}, {"id": "k9", "h": 17, "v": 25}, {"id": "k9", "h": 18.2, "v": 60}, {"id": "k9", "h": 19, "v": 76}, {"id": "k9", "h": 28.7, "v": 82},
  {"id": "k10", "h": 0, "v": 0}, {"id": "k10", "h": 3, "v": 12}, {"id": "k10", "h": 5, "v": 18}, {"id": "k10", "h": 10, "v": 20}, {"id": "k10", "h": 15.5, "v": 21}, {"id": "k10", "h": 16, "v": 25}, {"id": "k10", "h": 16.8, "v": 50}, {"id": "k10", "h": 17.5, "v": 70}, {"id": "k10", "h": 18.5, "v": 78}, {"id": "k10", "h": 28.7, "v": 80},
  {"id": "k11", "h": 0, "v": 0}, {"id": "k11", "h": 3, "v": 8}, {"id": "k11", "h": 6, "v": 14}, {"id": "k11", "h": 16, "v": 16}, {"id": "k11", "h": 18, "v": 17}, {"id": "k11", "h": 20, "v": 20}, {"id": "k11", "h": 22, "v": 45}, {"id": "k11", "h": 23.5, "v": 70}, {"id": "k11", "h": 24.5, "v": 78}, {"id": "k11", "h": 28.7, "v": 80},
  {"id": "k12", "h": 0, "v": 0}, {"id": "k12", "h": 4, "v": 10}, {"id": "k12", "h": 10, "v": 12}, {"id": "k12", "h": 18, "v": 14}, {"id": "k12", "h": 21, "v": 20}, {"id": "k12", "h": 24, "v": 60}, {"id": "k12", "h": 25.5, "v": 75}, {"id": "k12", "h": 28.7, "v": 78},
  {"id": "k13", "h": 0, "v": 0}, {"id": "k13", "h": 2, "v": 15}, {"id": "k13", "h": 3, "v": 35}, {"id": "k13", "h": 4, "v": 55}, {"id": "k13", "h": 5, "v": 63}, {"id": "k13", "h": 8, "v": 68}, {"id": "k13", "h": 12, "v": 71}, {"id": "k13", "h": 16, "v": 72.5}, {"id": "k13", "h": 16.5, "v": 78}, {"id": "k13", "h": 17.2, "v": 88}, {"id": "k13", "h": 18, "v": 94}, {"id": "k13", "h": 28.7, "v": 97},
  {"id": "k14", "h": 16.5, "v": 2}, {"id": "k14", "h": 20, "v": 20}, {"id": "k14", "h": 23, "v": 45}, {"id": "k14", "h": 25.2, "v": 70}, {"id": "k14", "h": 28.7, "v": 76},
  {"id": "k15", "h": 0, "v": 0}, {"id": "k15", "h": 3, "v": 20}, {"id": "k15", "h": 5, "v": 30}, {"id": "k15", "h": 10, "v": 33}, {"id": "k15", "h": 19.5, "v": 34}, {"id": "k15", "h": 20.5, "v": 60}, {"id": "k15", "h": 21.5, "v": 75}, {"id": "k15", "h": 28.7, "v": 82},
  {"id": "k16", "h": 0, "v": 0}, {"id": "k16", "h": 3, "v": 15}, {"id": "k16", "h": 5, "v": 22}, {"id": "k16", "h": 15.5, "v": 24}, {"id": "k16", "h": 16.3, "v": 40}, {"id": "k16", "h": 17, "v": 65}, {"id": "k16", "h": 18, "v": 80}, {"id": "k16", "h": 28.7, "v": 88},
  {"id": "k17", "h": 0, "v": 0}, {"id": "k17", "h": 2, "v": 12}, {"id": "k17", "h": 3, "v": 28}, {"id": "k17", "h": 4, "v": 44}, {"id": "k17", "h": 6, "v": 55}, {"id": "k17", "h": 9, "v": 60}, {"id": "k17", "h": 12, "v": 62}, {"id": "k17", "h": 15.5, "v": 63}, {"id": "k17", "h": 16, "v": 70}, {"id": "k17", "h": 17, "v": 85}, {"id": "k17", "h": 18, "v": 93}, {"id": "k17", "h": 28.7, "v": 95},
  {"id": "k18", "h": 0, "v": 0}, {"id": "k18", "h": 2.5, "v": 18}, {"id": "k18", "h": 3.5, "v": 38}, {"id": "k18", "h": 5, "v": 50}, {"id": "k18", "h": 8, "v": 56}, {"id": "k18", "h": 12, "v": 58}, {"id": "k18", "h": 15.5, "v": 59}, {"id": "k18", "h": 16.2, "v": 68}, {"id": "k18", "h": 17, "v": 84}, {"id": "k18", "h": 18, "v": 90}, {"id": "k18", "h": 28.7, "v": 93},
  {"id": "k19", "h": 0, "v": 0}, {"id": "k19", "h": 3, "v": 14}, {"id": "k19", "h": 4.5, "v": 22}, {"id": "k19", "h": 8, "v": 24}, {"id": "k19", "h": 16, "v": 25}, {"id": "k19", "h": 17, "v": 45}, {"id": "k19", "h": 18, "v": 70}, {"id": "k19", "h": 19, "v": 80}, {"id": "k19", "h": 28.7, "v": 84},
  {"id": "k20", "h": 3, "v": 2}, {"id": "k20", "h": 8, "v": 8}, {"id": "k20", "h": 16, "v": 9}, {"id": "k20", "h": 17.5, "v": 20}, {"id": "k20", "h": 19, "v": 55}, {"id": "k20", "h": 20.5, "v": 72}, {"id": "k20", "h": 28.7, "v": 79},
  {"id": "k21", "h": 0, "v": 0}, {"id": "k21", "h": 2, "v": 4}, {"id": "k21", "h": 5, "v": 8}, {"id": "k21", "h": 16, "v": 8.5}, {"id": "k21", "h": 17, "v": 10}, {"id": "k21", "h": 18.5, "v": 40}, {"id": "k21", "h": 20, "v": 62}, {"id": "k21", "h": 21, "v": 72}, {"id": "k21", "h": 28.7, "v": 77},
  {"id": "k22", "h": 5, "v": 26}, {"id": "k22", "h": 16, "v": 27}, {"id": "k22", "h": 16.5, "v": 45}, {"id": "k22", "h": 17, "v": 70}, {"id": "k22", "h": 18, "v": 83}, {"id": "k22", "h": 28.7, "v": 88}
 ],
 "d_opt": [
  {"h": 0, "v": 0}, {"h": 0.3, "v": 1.2}, {"h": 0.8, "v": 4.5}, {"h": 1.3, "v": 8.5}, {"h": 1.8, "v": 14}, {"h": 2.3, "v": 20}, {"h": 2.8, "v": 26}, {"h": 3.25, "v": 31.5}, {"h": 3.8, "v": 33.8}, {"h": 4.8, "v": 35.8}, {"h": 6.3, "v": 37.8}, {"h": 8.3, "v": 39.5}, {"h": 10.3, "v": 40.8}, {"h": 12.3, "v": 41.7}, {"h": 14.1, "v": 42.4}, {"h": 16.1, "v": 43.3}, {"h": 16.7, "v": 52}, {"h": 17.2, "v": 61}, {"h": 17.7, "v": 70.5}, {"h": 18.1, "v": 78}, {"h": 18.4, "v": 82.5}, {"h": 18.8, "v": 84.8}, {"h": 19.5, "v": 85.8}, {"h": 21, "v": 86.6}, {"h": 23, "v": 87.4}, {"h": 25, "v": 88}, {"h": 27, "v": 88.5}, {"h": 28.7, "v": 89}
 ],
 "d_hist": [
  {"h": 0.3, "v": 1.5}, {"h": 0.8, "v": 4.9}, {"h": 1.3, "v": 9}, {"h": 1.8, "v": 14.4}, {"h": 2.3, "v": 20}, {"h": 2.8, "v": 26.4}, {"h": 3.3, "v": 32}, {"h": 3.8, "v": 34}, {"h": 4.3, "v": 35.2}, {"h": 4.8, "v": 36.2}, {"h": 5.3, "v": 36.9}, {"h": 5.8, "v": 37.4}, {"h": 6.3, "v": 37.9}, {"h": 6.8, "v": 38.5}, {"h": 7.3, "v": 38.8}, {"h": 7.8, "v": 39.3}, {"h": 8.3, "v": 39.6}, {"h": 8.8, "v": 39.9}, {"h": 9.3, "v": 40.3}, {"h": 9.8, "v": 40.6}, {"h": 10.3, "v": 40.8}, {"h": 10.8, "v": 41}, {"h": 11.3, "v": 41.3}, {"h": 11.8, "v": 41.4}, {"h": 12.3, "v": 41.7}, {"h": 12.7, "v": 41.9}, {"h": 13.1, "v": 42}, {"h": 13.6, "v": 42.3}, {"h": 14.1, "v": 42.4}, {"h": 14.6, "v": 42.6}, {"h": 15.1, "v": 42.7}, {"h": 15.6, "v": 42.7},
  {"h": 16.2, "v": 46.7}, {"h": 16.7, "v": 53.6}, {"h": 17.2, "v": 62.3}, {"h": 17.7, "v": 72.2}, {"h": 18.2, "v": 82.9}, {"h": 18.6, "v": 85.2}, {"h": 19.0, "v": 86.1}, {"h": 19.4, "v": 86.4}, {"h": 19.8, "v": 86.5}, {"h": 20.1, "v": 86.7}, {"h": 20.5, "v": 86.8}, {"h": 21.2, "v": 87.1}, {"h": 21.7, "v": 87.4}, {"h": 22.2, "v": 87.6}, {"h": 22.7, "v": 87.8}, {"h": 23.2, "v": 87.9}, {"h": 23.7, "v": 88}, {"h": 24.2, "v": 88.3}, {"h": 24.7, "v": 88.4}, {"h": 25.2, "v": 88.6}, {"h": 25.7, "v": 88.7}, {"h": 26.2, "v": 88.8}, {"h": 26.7, "v": 89}, {"h": 27.2, "v": 89.1}, {"h": 27.7, "v": 89.3}, {"h": 28.2, "v": 89.4}, {"h": 28.7, "v": 89.5}
 ]
},
"vconcat": [
 {"hconcat": [
  {"width": 533, "height": 238,
   "title": {"text": "(a)Gas-oil ratio,m³/m³", "dx": -80, "fontSize": 25, "offset": 16},
   "encoding": {
    "x": {"field": "h", "type": "quantitative", "scale": {"domain": [-0.1, 28.9], "nice": false, "zero": false}, "axis": {"title": "Time", "values": [3, 6, 9, 12, 15, 18, 21, 24, 27], "labelExpr": "datum.value == 3 ? '01-01T03:01' : datum.value == 9 ? '01-01T09:01' : datum.value == 15 ? '01-01T15:01' : datum.value == 21 ? '01-01T21:01' : ''", "labelOverlap": false, "labelFlush": false}},
    "y": {"field": "v", "type": "quantitative", "scale": {"type": "log", "domain": [10, 48000], "nice": false}, "axis": {"title": ["Well-1 Gas Oil Ratio SC", "(m3/m3)"], "values": [10, 100, 1000, 10000], "format": "d", "labelOverlap": false}}
   },
   "layer": [
    {"data": {"name": "a_band"}, "mark": {"type": "area", "color": "#72ccd6", "interpolate": "monotone", "clip": true}, "encoding": {"y2": {"field": "v2"}, "detail": {"field": "b"}}},
    {"data": {"name": "a_spk"}, "mark": {"type": "rule", "color": "#7fd0d9", "strokeWidth": 1, "clip": true}, "encoding": {"y2": {"field": "v2"}}},
    {"data": {"name": "a_gen"}, "mark": {"type": "line", "strokeWidth": 0.9, "interpolate": "monotone", "clip": true}, "encoding": {"detail": {"field": "id"}, "color": {"datum": "General Solutions", "scale": {"domain": ["General Solutions", "Field History", "Optimal Solution"], "range": ["#86d3db", "#2f44e0", "#8a1f2d"]}, "legend": {"title": null, "legendX": -15, "legendY": -34, "encode": {"symbols": {"update": {"shape": {"signal": "datum.value === 'Field History' ? 'circle' : 'stroke'"}, "size": {"signal": "datum.value === 'Field History' ? 14 : 150"}, "fill": {"value": "transparent"}, "strokeWidth": {"signal": "datum.value === 'General Solutions' ? 1 : 2"}}}}}}}},
    {"data": {"name": "a_opt"}, "mark": {"type": "line", "strokeWidth": 2, "interpolate": "monotone", "clip": true}, "encoding": {"color": {"datum": "Optimal Solution"}}},
    {"data": {"name": "a_hist"}, "mark": {"type": "point", "shape": "circle", "filled": false, "size": 18, "strokeWidth": 1.3, "opacity": 1, "clip": true}, "encoding": {"color": {"datum": "Field History"}}}
   ]
  },
  {"width": 576, "height": 238,
   "title": {"text": "(b)Water cut,%", "dx": -15, "fontSize": 23, "offset": 17},
   "encoding": {
    "x": {"field": "h", "type": "quantitative", "scale": {"domain": [0, 28.7], "nice": false, "zero": false}, "axis": {"title": "Time", "values": [3, 6, 9, 12, 15, 18, 21, 24, 27], "labelExpr": "datum.value == 3 ? '01-01T03:01' : datum.value == 9 ? '01-01T09:01' : datum.value == 15 ? '01-01T15:01' : datum.value == 21 ? '01-01T21:01' : ''", "labelOverlap": false, "labelFlush": false}},
    "y": {"field": "v", "type": "quantitative", "scale": {"domain": [0, 100], "nice": false}, "axis": {"title": "Well-1 Water Cut SC - %", "values": [0, 20, 40, 60, 80, 100]}}
   },
   "layer": [
    {"data": {"name": "b_band"}, "mark": {"type": "area", "color": "#72ccd6", "interpolate": "monotone", "clip": true}, "encoding": {"y2": {"field": "v2"}, "detail": {"field": "b"}}},
    {"data": {"name": "b_spk"}, "mark": {"type": "rule", "color": "#7fd0d9", "strokeWidth": 1, "clip": true}, "encoding": {"y2": {"field": "v2"}}},
    {"data": {"name": "b_gen"}, "mark": {"type": "line", "strokeWidth": 0.9, "interpolate": "monotone", "clip": true}, "encoding": {"detail": {"field": "id"}, "color": {"datum": "General Solutions", "scale": {"domain": ["General Solutions", "Field History", "Optimal Solution"], "range": ["#86d3db", "#2f44e0", "#8a1f2d"]}, "legend": {"title": null, "legendX": 25, "legendY": -34, "encode": {"symbols": {"update": {"shape": {"signal": "datum.value === 'Field History' ? 'circle' : 'stroke'"}, "size": {"signal": "datum.value === 'Field History' ? 14 : 150"}, "fill": {"value": "transparent"}, "strokeWidth": {"signal": "datum.value === 'General Solutions' ? 1 : 2"}}}}}}}},
    {"data": {"name": "b_opt"}, "mark": {"type": "line", "strokeWidth": 2, "interpolate": "monotone", "clip": true}, "encoding": {"color": {"datum": "Optimal Solution"}}},
    {"data": {"name": "b_hist"}, "mark": {"type": "point", "shape": "circle", "filled": false, "size": 18, "strokeWidth": 1.3, "opacity": 1, "clip": true}, "encoding": {"color": {"datum": "Field History"}}}
   ]
  }
 ], "spacing": 44, "resolve": {"scale": {"color": "independent"}, "legend": {"color": "independent"}}},
 {"hconcat": [
  {"width": 535, "height": 240,
   "title": {"text": "(c)Injection well bottom-hole pressure, kPa", "dx": -45, "fontSize": 28, "offset": 20},
   "encoding": {
    "x": {"field": "h", "type": "quantitative", "scale": {"domain": [0, 28.8], "nice": false, "zero": false}, "axis": {"title": "Time", "values": [3, 6, 9, 12, 15, 18, 21, 24, 27], "labelExpr": "datum.value == 3 ? '01-01T03:01' : datum.value == 9 ? '01-01T09:01' : datum.value == 15 ? '01-01T15:01' : datum.value == 21 ? '01-01T21:01' : ''", "labelOverlap": false, "labelFlush": false}},
    "y": {"field": "v", "type": "quantitative", "scale": {"domain": [10000, 40000], "nice": false, "zero": false}, "axis": {"title": ["Well-g Well Bottom-hole", "Pressure (kPa)"], "values": [10000, 20000, 30000, 40000], "format": "d"}}
   },
   "layer": [
    {"data": {"name": "c_band"}, "mark": {"type": "area", "color": "#72ccd6", "interpolate": "monotone", "clip": true}, "encoding": {"y2": {"field": "v2"}, "detail": {"field": "b"}}},
    {"data": {"name": "c_gen"}, "mark": {"type": "line", "strokeWidth": 0.9, "interpolate": "monotone", "clip": true}, "encoding": {"detail": {"field": "id"}, "color": {"datum": "General Solutions", "scale": {"domain": ["General Solutions", "Field History", "Optimal Solution"], "range": ["#86d3db", "#2f44e0", "#8a1f2d"]}, "legend": {"title": null, "legendX": -14, "legendY": -32, "encode": {"symbols": {"update": {"shape": {"signal": "datum.value === 'Field History' ? 'circle' : 'stroke'"}, "size": {"signal": "datum.value === 'Field History' ? 14 : 150"}, "fill": {"value": "transparent"}, "strokeWidth": {"signal": "datum.value === 'General Solutions' ? 1 : 2"}}}}}}}},
    {"data": {"name": "c_opt"}, "mark": {"type": "line", "strokeWidth": 2, "interpolate": "monotone", "clip": true}, "encoding": {"color": {"datum": "Optimal Solution"}}},
    {"data": {"name": "c_hist"}, "mark": {"type": "point", "shape": "circle", "filled": false, "size": 18, "strokeWidth": 1.3, "opacity": 1, "clip": true}, "encoding": {"color": {"datum": "Field History"}}}
   ]
  },
  {"width": 554, "height": 245,
   "title": {"text": "(d)Oil recovery,%", "dx": -43, "fontSize": 25, "offset": 18},
   "encoding": {
    "x": {"field": "h", "type": "quantitative", "scale": {"domain": [0, 28.7], "nice": false, "zero": false}, "axis": {"title": "Time", "values": [3, 6, 9, 12, 15, 18, 21, 24, 27], "labelExpr": "datum.value == 3 ? '01-01T03:01' : datum.value == 9 ? '01-01T09:01' : datum.value == 15 ? '01-01T15:01' : datum.value == 21 ? '01-01T21:01' : ''", "labelOverlap": false, "labelFlush": false}},
    "y": {"field": "v", "type": "quantitative", "scale": {"domain": [0, 100], "nice": false}, "axis": {"title": ["FIELD Oil Recovery Factor", "SCTR"], "values": [0, 20, 40, 60, 80, 100]}}
   },
   "layer": [
    {"data": {"name": "d_band"}, "mark": {"type": "area", "color": "#72ccd6", "interpolate": "monotone", "clip": true}, "encoding": {"y2": {"field": "v2"}, "detail": {"field": "b"}}},
    {"data": {"name": "d_gen"}, "mark": {"type": "line", "strokeWidth": 0.9, "interpolate": "monotone", "clip": true}, "encoding": {"detail": {"field": "id"}, "color": {"datum": "General Solutions", "scale": {"domain": ["General Solutions", "Field History", "Optimal Solution"], "range": ["#86d3db", "#2f44e0", "#8a1f2d"]}, "legend": {"title": null, "legendX": 3, "legendY": -32, "encode": {"symbols": {"update": {"shape": {"signal": "datum.value === 'Field History' ? 'circle' : 'stroke'"}, "size": {"signal": "datum.value === 'Field History' ? 14 : 150"}, "fill": {"value": "transparent"}, "strokeWidth": {"signal": "datum.value === 'General Solutions' ? 1 : 2"}}}}}}}},
    {"data": {"name": "d_opt"}, "mark": {"type": "line", "strokeWidth": 2, "interpolate": "monotone", "clip": true}, "encoding": {"color": {"datum": "Optimal Solution"}}},
    {"data": {"name": "d_hist"}, "mark": {"type": "point", "shape": "circle", "filled": false, "size": 18, "strokeWidth": 1.3, "opacity": 1, "clip": true}, "encoding": {"color": {"datum": "Field History"}}}
   ]
  }
 ], "spacing": 50, "resolve": {"scale": {"color": "independent"}, "legend": {"color": "independent"}}}
],
"spacing": 62,
"resolve": {"scale": {"color": "independent"}, "legend": {"color": "independent"}}
}
